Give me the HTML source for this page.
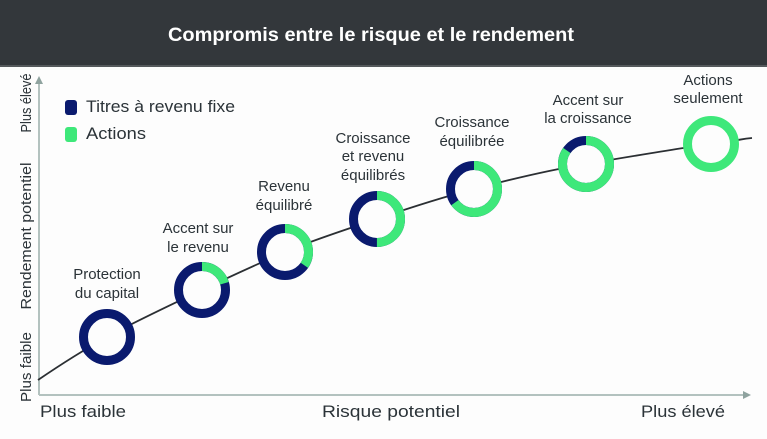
<!DOCTYPE html>
<html><head><meta charset="utf-8"><style>
html,body{margin:0;padding:0;background:#fdfdfd}
svg{display:block}
text{font-family:"Liberation Sans",sans-serif;fill:#2b3338}
.l{font-size:15px;text-anchor:middle}
</style></head><body>
<svg width="767" height="439" viewBox="0 0 767 439" xmlns="http://www.w3.org/2000/svg">
<rect x="0" y="0" width="767" height="439" fill="#fdfdfd"/>
<rect x="0" y="0" width="767" height="65" fill="#33373b"/>
<rect x="0" y="65" width="767" height="2" fill="#55595c"/>
<text x="371" y="41" style="font-size:19px;font-weight:bold;fill:#fff;text-anchor:middle" textLength="406" lengthAdjust="spacingAndGlyphs">Compromis entre le risque et le rendement</text>

<line x1="39" y1="395" x2="745" y2="395" stroke="#b3c2bf" stroke-width="2"/>
<polygon points="743,391 751,395 743,399" fill="#8fa39f"/>
<line x1="39" y1="395" x2="39" y2="82" stroke="#b3c2bf" stroke-width="2"/>
<polygon points="35,84 39,76 43,84" fill="#8fa39f"/>

<text x="40" y="417" style="font-size:17px" textLength="86" lengthAdjust="spacingAndGlyphs">Plus faible</text>
<text x="322" y="417" style="font-size:17px" textLength="138" lengthAdjust="spacingAndGlyphs">Risque potentiel</text>
<text x="641" y="417" style="font-size:17px" textLength="84" lengthAdjust="spacingAndGlyphs">Plus élevé</text>

<text transform="translate(31,103) rotate(-90)" style="font-size:15px;text-anchor:middle" textLength="59" lengthAdjust="spacingAndGlyphs">Plus élevé</text>
<text transform="translate(31,236) rotate(-90)" style="font-size:15px;text-anchor:middle" textLength="147" lengthAdjust="spacingAndGlyphs">Rendement potentiel</text>
<text transform="translate(31,367) rotate(-90)" style="font-size:15px;text-anchor:middle" textLength="70" lengthAdjust="spacingAndGlyphs">Plus faible</text>

<rect x="65" y="100" width="12" height="15" rx="3" fill="#0a1a6e"/>
<rect x="65" y="127" width="12" height="15" rx="3" fill="#3ee87a"/>
<text x="86" y="112" style="font-size:17px" textLength="149" lengthAdjust="spacingAndGlyphs">Titres à revenu fixe</text>
<text x="86" y="139" style="font-size:17px" textLength="60" lengthAdjust="spacingAndGlyphs">Actions</text>

<path d="M38,380 C60,365 80,352 107,337 S175,303 202,290 S260,263 285,252 S345,230 377,219 S440,198 474,189 S550,170 586,164 S680,148 711,144 S740,139 752,138" fill="none" stroke="#2b2f33" stroke-width="1.8"/>

<g fill="none" stroke-width="9">
<circle cx="107" cy="337" r="23.5" fill="#fdfdfd" stroke="#0a1a6e"/>
<circle cx="202" cy="290" r="23.5" fill="#fdfdfd" stroke="#0a1a6e"/>
<circle cx="202" cy="290" r="23.5" stroke="#3ee87a" stroke-dasharray="30 150" transform="rotate(-90 202 290)"/>
<circle cx="285" cy="252" r="23.5" fill="#fdfdfd" stroke="#0a1a6e"/>
<circle cx="285" cy="252" r="23.5" stroke="#3ee87a" stroke-dasharray="51 150" transform="rotate(-90 285 252)"/>
<circle cx="377" cy="219" r="23.5" fill="#fdfdfd" stroke="#0a1a6e"/>
<circle cx="377" cy="219" r="23.5" stroke="#3ee87a" stroke-dasharray="73.8 150" transform="rotate(-90 377 219)"/>
<circle cx="474" cy="189" r="23.5" fill="#fdfdfd" stroke="#0a1a6e"/>
<circle cx="474" cy="189" r="23.5" stroke="#3ee87a" stroke-dasharray="96 150" transform="rotate(-90 474 189)"/>
<circle cx="586" cy="164" r="23.5" fill="#fdfdfd" stroke="#0a1a6e"/>
<circle cx="586" cy="164" r="23.5" stroke="#3ee87a" stroke-dasharray="125 150" transform="rotate(-90 586 164)"/>
<circle cx="711" cy="144" r="23.5" fill="#fdfdfd" stroke="#3ee87a"/>
</g>

<text class="l" x="107" y="279">Protection</text>
<text class="l" x="107" y="298">du capital</text>
<text class="l" x="198" y="233">Accent sur</text>
<text class="l" x="198" y="252">le revenu</text>
<text class="l" x="284" y="191">Revenu</text>
<text class="l" x="284" y="210">équilibré</text>
<text class="l" x="373" y="143">Croissance</text>
<text class="l" x="373" y="161">et revenu</text>
<text class="l" x="373" y="180">équilibrés</text>
<text class="l" x="472" y="127">Croissance</text>
<text class="l" x="472" y="146">équilibrée</text>
<text class="l" x="588" y="105">Accent sur</text>
<text class="l" x="588" y="123">la croissance</text>
<text class="l" x="708" y="85">Actions</text>
<text class="l" x="708" y="103">seulement</text>
</svg>
</body></html>
